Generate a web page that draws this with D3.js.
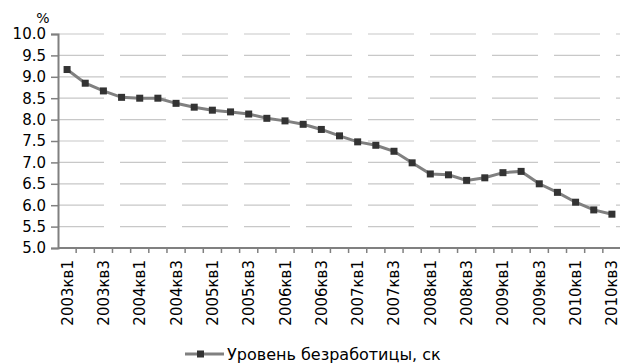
<!DOCTYPE html>
<html><head><meta charset="utf-8">
<script src="https://cdn.jsdelivr.net/npm/d3@7"></script>
<style>body{margin:0;background:#fff}svg{display:block}text{font-family:"DejaVu Sans",Verdana,sans-serif;fill:#000}</style>
</head><body><svg id="c" width="620" height="363"></svg>
<script>
const categories = ["2003кв1","2003кв2","2003кв3","2003кв4","2004кв1","2004кв2","2004кв3","2004кв4",
  "2005кв1","2005кв2","2005кв3","2005кв4","2006кв1","2006кв2","2006кв3","2006кв4",
  "2007кв1","2007кв2","2007кв3","2007кв4","2008кв1","2008кв2","2008кв3","2008кв4",
  "2009кв1","2009кв2","2009кв3","2009кв4","2010кв1","2010кв2","2010кв3"];
const values = [9.17,8.85,8.67,8.52,8.50,8.50,8.38,8.29,8.22,8.18,8.13,8.03,7.97,7.89,7.77,7.62,7.48,7.40,7.26,6.99,6.73,6.71,6.58,6.64,6.76,6.79,6.50,6.30,6.07,5.89,5.79];
const yTicks = [5.0,5.5,6.0,6.5,7.0,7.5,8.0,8.5,9.0,9.5,10.0];
const seriesName = "Уровень безработицы, ск";
const unitLabel = "%";

const svg = d3.select("#c");
const mLeft = 58, mRight = 621, mTop = 34, mBottom = 248;
const x = d3.scaleBand().domain(categories).range([mLeft, mRight]).padding(0);
const y = d3.scaleLinear().domain([5, 10]).range([mBottom, mTop]);

// gridlines
svg.append("g").selectAll("line").data(yTicks.filter(v => v > 5)).join("line")
  .attr("x1", mLeft).attr("x2", 620).attr("y1", d => y(d)).attr("y2", d => y(d))
  .attr("stroke", "#c8c8c8").attr("stroke-width", 1.2).attr("stroke-dasharray", "46 16");

// y axis
const ya = svg.append("g").attr("transform", `translate(${mLeft},0)`)
  .call(d3.axisLeft(y).tickValues(yTicks).tickFormat(d3.format(".1f")).tickSize(7).tickPadding(5));
ya.select(".domain").attr("stroke", "#808080").attr("stroke-width", 2);
ya.selectAll(".tick line").attr("stroke", "#808080").attr("stroke-width", 1.5);
ya.selectAll("text").attr("font-size", 15).attr("font-family", "DejaVu Sans").attr("fill", "#000");

// x axis
const boundaries = categories.map(c => x(c));
const xa = svg.append("g").attr("transform", `translate(0,${mBottom})`);
xa.append("line").attr("x1", mLeft).attr("x2", 620).attr("stroke", "#808080").attr("stroke-width", 2);
xa.selectAll("line.t").data(boundaries.slice(1)).join("line").attr("class", "t")
  .attr("x1", d => d).attr("x2", d => d).attr("y1", 0).attr("y2", 5)
  .attr("stroke", "#808080").attr("stroke-width", 1.5);
xa.selectAll("text").data(categories.filter((c, i) => i % 2 === 0)).join("text")
  .attr("transform", d => `translate(${x(d) + x.bandwidth() / 2 + 5.5},12) rotate(-90)`)
  .attr("text-anchor", "end").attr("font-size", 15).text(d => d);

// % label
svg.append("text").attr("x", 43).attr("y", 23).attr("text-anchor", "middle").attr("font-size", 14).text(unitLabel);

// line
const cx = d => x(d) + x.bandwidth() / 2;
svg.append("path").datum(values)
  .attr("d", d3.line().x((v, i) => cx(categories[i])).y(v => y(v)))
  .attr("fill", "none").attr("stroke", "#808080").attr("stroke-width", 3);
svg.append("g").selectAll("rect").data(values).join("rect")
  .attr("x", (v, i) => cx(categories[i]) - 3.5).attr("y", v => y(v) - 3.5)
  .attr("width", 7).attr("height", 7).attr("fill", "#333");

// legend
const lg = svg.append("g");
lg.append("line").attr("x1", 185).attr("x2", 224).attr("y1", 354).attr("y2", 354).attr("stroke", "#808080").attr("stroke-width", 3);
lg.append("rect").attr("x", 197).attr("y", 350.5).attr("width", 7).attr("height", 7).attr("fill", "#333");
lg.append("text").attr("x", 227).attr("y", 360).attr("font-size", 16).text(seriesName);
</script></body></html>
